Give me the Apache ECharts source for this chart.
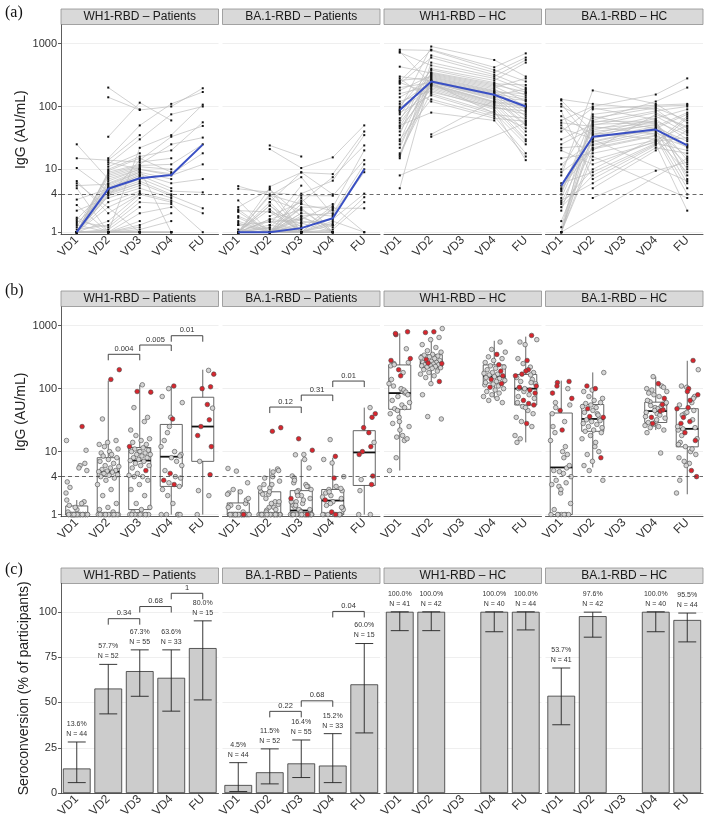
<!DOCTYPE html>
<html><head><meta charset="utf-8">
<script src="https://cdn.jsdelivr.net/npm/echarts@6/dist/echarts.min.js"></script>
<style>html,body{margin:0;padding:0;background:#fff}#c{width:708px;height:820px}</style>
</head><body><div id="c"></div>
<script>
// ---------- categories / labels ----------
const timepoints = ['VD1', 'VD2', 'VD3', 'VD4', 'FU'];
const facetTitles = ['WH1-RBD – Patients', 'BA.1-RBD – Patients', 'WH1-RBD – HC', 'BA.1-RBD – HC'];
const panelLetters = ['(a)', '(b)', '(c)'];
const yTicksLog = [1, 4, 10, 100, 1000];
const yGridLog = [1, 10, 100, 1000];
const yTicksPct = [0, 25, 50, 75, 100];
const seroThreshold = 4;

// ---------- per-individual IgG (AU/mL): [VD1, VD2, VD3, VD4, FU] ----------
const wh1Patients = [
 [null,200,90,null,null],[null,140,88,100,195],[null,33,115,60,null],[null,15,50,110,170],[null,14,35,null,null],
 [null,13,10,1,null],[null,1,22,35,107],[null,12,30,75,100],[null,11,18,null,null],[null,10,16,20,56],
 [null,9.5,15,9,null],[1,null,14,33,49],[15,null,13,15,null],[6,null,1,1,null],[1,9,12,25,32],
 [1,8.5,11.5,12,25],[1.2,8,11,10,null],[1,7.5,10.5,null,null],[25,7,10,8.5,18],[1,6.5,10,8,12],
 [1,6,9.5,null,null],[5.5,5.8,9,7,null],[1,5.5,9,null,null],[1.6,5.2,8.5,6,7],[1,5,8,null,null],
 [3.3,4.9,8,5,null],[1,4.8,7.5,null,null],[1,4.7,7.2,4.5,4.3],[10.5,4.5,7,null,null],[1,4.3,6.5,4,null],
 [1.4,4.2,6,null,null],[1,4,6,3.8,2.4],[1,3.8,5.5,null,null],[2.2,3.5,5,3.5,null],[1,3,4.5,null,null],
 [1,2.5,4.2,3.2,2],[6.5,2,4,null,null],[1,1.5,4,3,null],[1.1,1.3,3.5,null,null],[1.5,1.2,3,2.8,1],
 [1,1.1,2.5,null,null],[5,1,2,2.5,null],[1,1,1.5,null,null],[2.7,1,1.3,2,null],[1,1,1.2,null,null],
 [1.3,1,1.1,1.5,null],[1.7,1,1,null,null],[1,1,1,1,null],[1,1,1,null,null],[1,1,1,1,null],
 [1,1,1,null,null],[1,1,1,1,null],[1,1,1,1,null],[1,1,1,null,null],[1,1,1,null,null]
];
const ba1Patients = [
 [null,24,16,null,null],[null,21,10.5,15.5,50],[null,3,9,4,null],[null,5.3,8.9,8.4,40],[null,1.3,5.5,null,null],
 [null,2.3,1,1,null],[null,1,4.1,6.6,35],[null,1.8,3,7.5,24],[null,3.4,2.2,null,null],[null,1,2.5,2.5,20],
 [null,2.1,1.5,1.3,null],[4.9,null,3.8,3.8,14],[5.4,null,2.8,2.2,null],[1,null,1,1,null],[2.5,4.75,1.8,2,12],
 [1,3.8,7.5,1.9,10],[1.3,1.45,1.6,2.8,null],[1,2.65,1.2,null,null],[1,1,2,1.8,9],[1,1.6,1.4,1.6,4.1],
 [1,1.17,1,null,null],[2.3,1,2.4,1,null],[1,3,1,null,null],[1.5,1,1.7,1.2,3.6],[1,1,1.3,null,null],
 [2.2,2.1,1,1.4,null],[1,1,1.15,null,null],[1,1.3,1,1.1,3],[3.2,1,1,null,null],[1,1.6,2.3,1,null],
 [1.4,1,1,null,null],[1,1,1,2.4,2.4],[1,1.2,3.2,null,null],[2.1,1,1,1.7,null],[1,1,1.2,null,null],
 [1,4,1,1.5,1],[1.7,1,1,null,null],[1,1,1.4,1,null],[1,2.3,1,null,null],[1.1,1,1.1,2.6,1],
 [1,1,1,null,null],[1.8,1.1,1,1,null],[1,1,2,null,null],[1,1.5,1,2.3,null],[1,1,1,null,null],
 [1,1,3.5,1,null],[1.3,1,1,null,null],[1,2.65,1,1,null],[1,1,1.6,null,null],[1,1,1,1,null],
 [1,5,1,null,null],[1,1,1.8,1,null],[1,1,1,1.3,null],[1,1,1,null,null],[1,1,2.8,null,null]
];
const wh1HC = [
 [90,900,null,550,300],[250,800,null,420,700],[800,780,null,380,250],[35,650,null,350,600],[230,600,null,320,200],
 [15,500,null,300,550],[720,450,null,280,180],[60,400,null,260,500],[100,380,null,240,150],[28,350,null,230,220],
 [430,340,null,220,170],[75,330,null,210,120],[5,320,null,200,280],[180,310,null,190,100],[48,300,null,180,140],
 [260,290,null,175,90],[22,280,null,170,160],[140,270,null,165,80],[85,260,null,160,130],[17,260,null,155,70],
 [300,255,null,150,190],[55,250,null,145,60],[110,245,null,140,125],[16,240,null,135,52],[200,240,null,130,110],
 [40,235,null,null,45],[95,230,null,120,105],[750,225,null,118,40],[25,220,null,115,100],[160,215,null,110,35],
 [65,210,null,105,95],[88,200,null,100,30],[45,190,null,95,85],[120,180,null,90,28],[18,170,null,null,75],
 [240,160,null,80,25],[80,150,null,75,65],[30,130,null,70,18],[280,120,null,65,58],[50,80,null,60,16],
 [8,null,null,null,55],[null,36,null,125,50],[null,33,null,85,14],[null,null,null,null,165]
];
const ba1HC = [
 [8,180,null,110,55],[60,100,null,155,280],[130,110,null,90,40],[2.2,60,null,120,200],[40,95,null,62,30],
 [1,90,null,105,110],[125,40,null,50,24],[4,75,null,100,105],[10,70,null,44,22],[1.2,65,null,95,60],
 [100,58,null,58,35],[4.8,33,null,40,16],[1,55,null,85,100],[30,52,null,56,14],[3.5,50,null,80,45],
 [55,48,null,36,12],[1,20,null,75,48],[25,45,null,54,10],[5.5,42,null,70,38],[1,38,null,30,9],
 [70,36,null,65,90],[4.5,35,null,52,8],[20,12,null,28,32],[1,32,null,60,7],[45,31,null,48,80],
 [3,30,null,null,6.5],[12,28,null,46,28],[110,27,null,45,75],[1.5,25,null,42,6],[22,24,null,38,25],
 [5,22,null,35,5],[9,21,null,34,23],[2.8,10,null,32,4],[15,18,null,29,50],[1,16,null,null,3.5],
 [50,14,null,27,70],[6,9,null,26,20],[2.5,8,null,25,2.2],[85,7,null,24,65],[3.2,6,null,22,18],
 [1,null,null,null,15],[null,5,null,20,42],[null,3.5,null,9.5,13],[null,null,null,null,11]
];
// measurements highlighted in red: [row number (1-based), timepoint index]
const redPointsPatients = [[19,0],[1,1],[2,1],[1,2],[2,2],[15,2],[34,2],[4,3],[12,3],[28,3],[34,3],[38,3],
 [4,4],[7,4],[8,4],[10,4],[15,4],[16,4],[19,4],[20,4],[28,4]];
const redPointsHC = [[3,0],[28,0],[7,0],[21,0],[39,0],[30,0],[25,0],[2,1],[3,1],[21,1],[22,1],[16,1],[38,1],
 [4,3],[9,3],[14,3],[19,3],[23,3],[27,3],[31,3],
 [2,4],[5,4],[11,4],[13,4],[17,4],[21,4],[25,4],[27,4],[31,4],[33,4],[34,4],[37,4],[39,4],[41,4]];

// ---------- medians (blue line) ----------
const medianWh1P = [1, 4.9, 7.2, 8.1, 24.7];
const medianBa1P = [1, 1, 1.16, 1.67, 10];
const medianWh1HC = [88, 250, null, 154, 100];
const medianBa1HC = [5.5, 33, null, 43, 24];

// ---------- box statistics [min, Q1, median, Q3, max] ----------
const boxWh1P = [[1,1,1,1.37,1.7],[1,1,4.8,8,134],[1,1.2,7.2,11.6,115],[1,2.8,8.3,27,110],[1,7,25,73,200]];
const boxBa1P = [[1,1,1,1.53,2.5],[1,1,1,2.3,5.4],[1,1,1.16,2.4,7.5],[1,1,1.67,2.5,8],[1,2.9,9.7,21.5,50]];
const boxWh1HC = [[5,47,85,238,755],[123,217,255,345,650],null,[70,123,155,238,575],[14,55,100,168,670]];
const boxBa1HC = [[1,1,5.6,41,134],[5.6,21,33,56,181],null,[22,29,44,61,155],[2.1,11.9,23,48,277]];

// ---------- p-value brackets [fromIndex, toIndex, level] ----------
const bracketsBWh1P = [[1,2,351],[2,3,493],[3,4,693]];
const bracketLabelsBWh1P = ['0.004','0.005','0.01'];
const bracketsBBa1P = [[1,2,51],[2,3,79],[3,4,132]];
const bracketLabelsBBa1P = ['0.12','0.31','0.01'];
const bracketsCWh1P = [[1,2,96.2],[2,3,102.9],[3,4,110.2]];
const bracketLabelsCWh1P = ['0.34','0.68','1'];
const bracketsCBa1P = [[1,2,45.1],[2,3,50.9],[3,4,100.2]];
const bracketLabelsCBa1P = ['0.22','0.68','0.04'];

// ---------- seroconversion (%), 95% CI ----------
const seroWh1P = [13.6, 57.7, 67.3, 63.6, 80.0];
const ciLoWh1P = [5.8, 43.7, 53.4, 45.2, 51.4];
const ciHiWh1P = [28.2, 71, 79, 79, 95];
const seroBa1P = [4.5, 11.5, 16.4, 15.2, 60.0];
const ciLoBa1P = [0.9, 5.1, 8.6, 5.8, 33.2];
const ciHiBa1P = [16.8, 24.4, 29.3, 32.8, 82.5];
const seroWh1HC = [100, 100, null, 100, 100];
const ciLoWh1HC = [89.6, 89.6, null, 89, 90];
const ciHiWh1HC = [100, 100, null, 100, 100];
const seroBa1HC = [53.7, 97.6, null, 100, 95.5];
const ciLoBa1HC = [37.7, 86, null, 89, 83.4];
const ciHiBa1HC = [69, 99.8, null, 100, 99.3];
const nPatients = [44, 52, 55, 33, 15];
const nHC = [41, 42, null, 40, 44];

// ---------- assemble ----------
const facets = [
 {rows: wh1Patients, red: redPointsPatients, med: medianWh1P, box: boxWh1P, bb: bracketsBWh1P, bbl: bracketLabelsBWh1P, bc: bracketsCWh1P, bcl: bracketLabelsCWh1P, pct: seroWh1P, lo: ciLoWh1P, hi: ciHiWh1P, n: nPatients},
 {rows: ba1Patients, red: redPointsPatients, med: medianBa1P, box: boxBa1P, bb: bracketsBBa1P, bbl: bracketLabelsBBa1P, bc: bracketsCBa1P, bcl: bracketLabelsCBa1P, pct: seroBa1P, lo: ciLoBa1P, hi: ciHiBa1P, n: nPatients},
 {rows: wh1HC, red: redPointsHC, med: medianWh1HC, box: boxWh1HC, bb: [], bbl: [], bc: [], bcl: [], pct: seroWh1HC, lo: ciLoWh1HC, hi: ciHiWh1HC, n: nHC},
 {rows: ba1HC, red: redPointsHC, med: medianBa1HC, box: boxBa1HC, bb: [], bbl: [], bc: [], bcl: [], pct: seroBa1HC, lo: ciLoBa1HC, hi: ciHiBa1HC, n: nHC}
];

const FONT = '"Liberation Sans", Arial, Helvetica, sans-serif';
const FL = [61, 222.5, 384, 545.5];
const FW = 157.5;
const layout = [
 {strip: 9, top: 25, height: 209.3, letterTop: 5, nameGap: 27},
 {strip: 291, top: 307, height: 209.7, letterTop: 283, nameGap: 27},
 {strip: 568, top: 583.5, height: 211.2, letterTop: 562, nameGap: 30}
];
const AX = '#333';

const option = {animation: false, grid: [], xAxis: [], yAxis: [], series: [], graphic: []};

const dashLine = {silent: true, symbol: 'none', label: {show: false},
  lineStyle: {type: [4, 3], color: '#444', width: 0.8}, data: [{yAxis: seroThreshold}]};

function bracketRenderer(labels) {
  return function (params, api) {
    const a = api.coord([api.value(0), api.value(2)]);
    const b = api.coord([api.value(1), api.value(2)]);
    const d = 6;
    return {type: 'group', children: [
      {type: 'polyline', shape: {points: [[a[0], a[1] + d], [a[0], a[1]], [b[0], b[1]], [b[0], b[1] + d]]},
       style: {stroke: '#333', lineWidth: 0.9, fill: null}},
      {type: 'text', x: (a[0] + b[0]) / 2, y: a[1] - 1.5,
       style: {text: labels[params.dataIndex], fontSize: 7.5, fontFamily: FONT, fill: '#333', align: 'center', verticalAlign: 'bottom'}}
    ]};
  };
}
const fmtNum = v => String(v);

for (let r = 0; r < 3; r++) {
  const L = layout[r];
  option.graphic.push({type: 'text', left: 5, top: L.letterTop,
    style: {text: panelLetters[r], font: '16px "Liberation Serif", "DejaVu Serif", serif', fill: '#111'}});
  for (let f = 0; f < 4; f++) {
    const g = r * 4 + f;
    const F = facets[f];
    const first = f === 0;
    option.graphic.push({type: 'rect', shape: {x: FL[f], y: L.strip, width: FW, height: 15.5},
      style: {fill: '#d9d9d9', stroke: '#8f8f8f', lineWidth: 0.8}});
    option.graphic.push({type: 'text', x: FL[f] + FW / 2, y: L.strip + 8,
      style: {text: facetTitles[f], fontSize: 12, fontFamily: FONT, fill: '#1a1a1a', align: 'center', verticalAlign: 'middle'}});
    option.grid.push({left: FL[f], top: L.top, width: FW, height: L.height});
    option.xAxis.push({type: 'category', gridIndex: g, data: timepoints, boundaryGap: true,
      axisLine: {lineStyle: {color: AX, width: 0.8}},
      axisTick: {alignWithLabel: true, length: 3, lineStyle: {color: AX, width: 0.8}},
      axisLabel: {rotate: 45, fontSize: 12, color: '#333', margin: 4, interval: 0, fontFamily: FONT},
      splitLine: {show: false}});
    if (r < 2) {
      option.yAxis.push({type: 'log', logBase: 10, gridIndex: g, min: 0.925, max: 1980,
        name: first ? 'IgG (AU/mL)' : '', nameLocation: 'middle', nameGap: L.nameGap,
        nameTextStyle: {fontSize: 14, color: '#222', fontFamily: FONT},
        axisLine: {show: first, lineStyle: {color: AX, width: 0.8}},
        axisTick: {show: first, length: 3, customValues: first ? yTicksLog : yGridLog, lineStyle: {color: AX, width: 0.8}},
        axisLabel: {show: first, customValues: yTicksLog, formatter: fmtNum, fontSize: 11, color: '#333', margin: 4, fontFamily: FONT},
        splitLine: {show: true, lineStyle: {color: '#ebebeb', width: 0.8}}});
    } else {
      option.yAxis.push({type: 'value', gridIndex: g, min: 0, max: 115.6,
        name: first ? 'Seroconversion (% of participants)' : '', nameLocation: 'middle', nameGap: L.nameGap,
        nameTextStyle: {fontSize: 14, color: '#222', fontFamily: FONT},
        axisLine: {show: first, lineStyle: {color: AX, width: 0.8}},
        axisTick: {show: first, length: 3, customValues: yTicksPct, lineStyle: {color: AX, width: 0.8}},
        axisLabel: {show: first, customValues: yTicksPct, formatter: fmtNum, fontSize: 11, color: '#333', margin: 4, fontFamily: FONT},
        splitLine: {show: true, lineStyle: {color: '#ebebeb', width: 0.8}}});
    }

    if (r === 0) {
      F.rows.forEach(row => {
        option.series.push({type: 'line', xAxisIndex: g, yAxisIndex: g, data: row, connectNulls: true,
          symbol: 'rect', symbolSize: 2, showAllSymbol: true, silent: true, z: 2,
          lineStyle: {color: '#bdbdbd', width: 0.7}, itemStyle: {color: '#111'}});
      });
      option.series.push({type: 'line', xAxisIndex: g, yAxisIndex: g, data: F.med, connectNulls: true,
        symbol: 'none', silent: true, z: 5, lineStyle: {color: '#3a50c4', width: 2}, markLine: dashLine});
    } else if (r === 1) {
      const boxData = [];
      F.box.forEach((b, i) => { if (b) boxData.push([i].concat(b)); });
      option.series.push({type: 'custom', xAxisIndex: g, yAxisIndex: g, z: 2, silent: true,
        encode: {x: 0, y: [1, 2, 3, 4, 5]}, data: boxData, markLine: dashLine,
        renderItem: function (params, api) {
          const x = api.value(0);
          const p = [1, 2, 3, 4, 5].map(k => api.coord([x, api.value(k)]));
          const bw = api.size([1, 0], [0, 10])[0] * 0.7;
          const cx = p[0][0];
          const st = {stroke: '#555', fill: null, lineWidth: 0.9};
          return {type: 'group', children: [
            {type: 'line', shape: {x1: cx, y1: p[0][1], x2: cx, y2: p[1][1]}, style: st},
            {type: 'line', shape: {x1: cx, y1: p[3][1], x2: cx, y2: p[4][1]}, style: st},
            {type: 'rect', shape: {x: cx - bw / 2, y: p[3][1], width: bw, height: p[1][1] - p[3][1]}, style: st},
            {type: 'line', shape: {x1: cx - bw / 2, y1: p[2][1], x2: cx + bw / 2, y2: p[2][1]}, style: {stroke: '#111', lineWidth: 1.8}}
          ]};
        }});
      const isRed = (i, j) => F.red.some(p => p[0] === i + 1 && p[1] === j);
      const grayPts = [], redPts = [];
      F.rows.forEach((row, i) => {
        row.forEach((v, j) => {
          if (v == null) return;
          const jit = (((i + 1) * 0.6180339887 + j * 0.381966) % 1 - 0.5) * 0.7;
          const red = isRed(i, j);
          (red ? redPts : grayPts).push([j, v, jit, red ? 1 : 0]);
        });
      });
      option.series.push({type: 'custom', xAxisIndex: g, yAxisIndex: g, z: 4, silent: true,
        encode: {x: 0, y: 1}, data: grayPts.concat(redPts),
        renderItem: function (params, api) {
          const p = api.coord([api.value(0), api.value(1)]);
          const bw = api.size([1, 0], [0, 10])[0];
          const red = api.value(3) === 1;
          return {type: 'circle', shape: {cx: p[0] + api.value(2) * bw, cy: p[1], r: 2.3},
            style: {fill: red ? '#d8262e' : '#d4d4d4', stroke: '#4a4a4a', lineWidth: 0.6}};
        }});
      if (F.bb.length) {
        option.series.push({type: 'custom', xAxisIndex: g, yAxisIndex: g, z: 5, silent: true,
          encode: {x: [0, 1], y: 2}, data: F.bb, renderItem: bracketRenderer(F.bbl)});
      }
    } else {
      option.series.push({type: 'bar', xAxisIndex: g, yAxisIndex: g, data: F.pct, barWidth: '88%', silent: true, z: 2,
        itemStyle: {color: '#cccccc', borderColor: '#333', borderWidth: 0.8}});
      const eb = [], lab = [];
      F.pct.forEach((v, i) => {
        if (v == null) return;
        eb.push([i, F.lo[i], F.hi[i]]);
        lab.push([i, F.hi[i], v, F.n[i]]);
      });
      option.series.push({type: 'custom', xAxisIndex: g, yAxisIndex: g, z: 4, silent: true,
        encode: {x: 0, y: [1, 2]}, data: eb,
        renderItem: function (params, api) {
          const a = api.coord([api.value(0), api.value(1)]);
          const b = api.coord([api.value(0), api.value(2)]);
          const cw = api.size([1, 0])[0] * 0.57 / 2;
          const st = {stroke: '#222', lineWidth: 0.9};
          return {type: 'group', children: [
            {type: 'line', shape: {x1: a[0], y1: a[1], x2: b[0], y2: b[1]}, style: st},
            {type: 'line', shape: {x1: a[0] - cw, y1: a[1], x2: a[0] + cw, y2: a[1]}, style: st},
            {type: 'line', shape: {x1: b[0] - cw, y1: b[1], x2: b[0] + cw, y2: b[1]}, style: st}
          ]};
        }});
      option.series.push({type: 'custom', xAxisIndex: g, yAxisIndex: g, z: 5, silent: true,
        encode: {x: 0, y: 1}, data: lab,
        renderItem: function (params, api) {
          const p = api.coord([api.value(0), api.value(1)]);
          return {type: 'text', x: p[0], y: p[1] - 3,
            style: {text: api.value(2).toFixed(1) + '%\nN = ' + api.value(3), fontSize: 7, lineHeight: 10,
              fontFamily: FONT, fill: '#333', align: 'center', verticalAlign: 'bottom'}};
        }});
      if (F.bc.length) {
        option.series.push({type: 'custom', xAxisIndex: g, yAxisIndex: g, z: 5, silent: true,
          encode: {x: [0, 1], y: 2}, data: F.bc, renderItem: bracketRenderer(F.bcl)});
      }
    }
  }
}

const chart = echarts.init(document.getElementById('c'), null, {renderer: 'canvas'});
chart.setOption(option);
</script>
</body></html>
